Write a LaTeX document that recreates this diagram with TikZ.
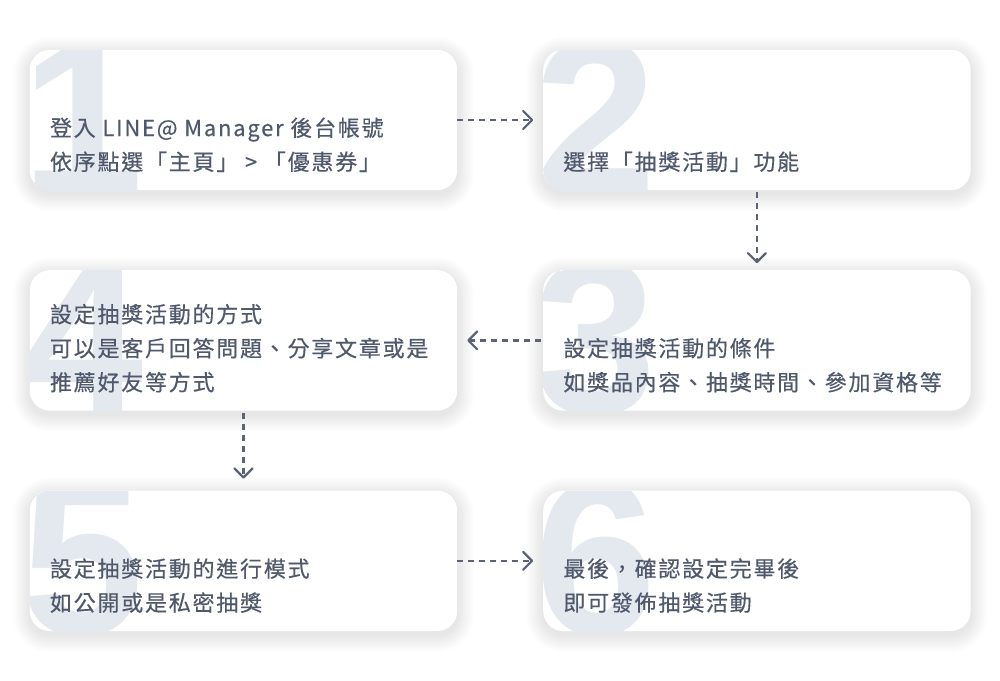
\documentclass[tikz,border=0pt]{standalone}
\usepackage{fontspec}
\setmainfont{Liberation Sans}
\newfontfamily\cjk[LetterSpace=8,FakeBold=0.4]{Noto Sans CJK TC}
\newfontfamily\numfont{Liberation Sans}
\usetikzlibrary{arrows.meta,positioning}
\definecolor{txtgray}{HTML}{4F596B}
\definecolor{numgray}{HTML}{E4E9EF}
\definecolor{arrgray}{HTML}{5B6375}
\definecolor{shadegray}{HTML}{3C4A60}

\begin{document}
\begin{tikzpicture}[x=1pt,y=-1pt,
  stepbox/.style={inner sep=0pt,minimum width=427pt,minimum height=140pt},
  bignum/.style={inner sep=0pt,text=numgray,font=\numfont\bfseries\fontsize{220}{220}\selectfont},
  steptext/.style={inner sep=0pt,align=left,text=txtgray,font=\cjk\fontsize{22}{34}\selectfont},
  flow/.style={draw=arrgray,line width=2.2pt,dash pattern=on 6pt off 5pt,
    -{Straight Barb[length=9pt,width=18pt,round]}}]
\fill[white] (0,0) rectangle (1000,680);
\useasboundingbox (0,0) rectangle (1000,680);
% the six steps
\node (s1) [stepbox] at (243.5,120) {};
\node (s2) [stepbox,right=86pt of s1] {};
\node (s3) [stepbox,below=80pt of s2] {};
\node (s4) [stepbox,left=86pt of s3] {};
\node (s5) [stepbox,below=80pt of s4] {};
\node (s6) [stepbox,right=86pt of s5] {};
\foreach \n in {1,...,6}{
  % soft shadow
  \foreach \k in {1,...,12}
    \fill[shadegray,opacity=0.006,rounded corners=20pt+1.4*\k pt]
      ([xshift=-1.4*\k pt,yshift=-4pt-1.4*\k pt]s\n.south west) rectangle ([xshift=1.4*\k pt,yshift=-4pt+1.4*\k pt]s\n.north east);
  \fill[white,rounded corners=20pt] (s\n.south west) rectangle (s\n.north east);
  \begin{scope}
    \clip[rounded corners=20pt] (s\n.south west) rectangle (s\n.north east);
    \node (d\n) [bignum,anchor=base west] at ([xshift=-9pt,yshift=-3pt]s\n.south west) {\n};
  \end{scope}}
\node (t1) [steptext,anchor=south west] at ([xshift=20pt,yshift=18pt]s1.south west)
  {登入 LINE@ Manager 後台帳號\\依序點選「主頁」 > 「優惠券」};
\node (t2) [steptext,anchor=south west] at ([xshift=20pt,yshift=18pt]s2.south west)
  {選擇「抽獎活動」功能};
\node (t3) [steptext,anchor=south west] at ([xshift=20pt,yshift=18pt]s3.south west)
  {設定抽獎活動的條件\\如獎品內容、抽獎時間、參加資格等};
\node (t4) [steptext,anchor=south west] at ([xshift=20pt,yshift=18pt]s4.south west)
  {設定抽獎活動的方式\\可以是客戶回答問題、分享文章或是\\推薦好友等方式};
\node (t5) [steptext,anchor=south west] at ([xshift=20pt,yshift=18pt]s5.south west)
  {設定抽獎活動的進行模式\\如公開或是私密抽獎};
\node (t6) [steptext,anchor=south west] at ([xshift=20pt,yshift=18pt]s6.south west)
  {最後，確認設定完畢後\\即可發佈抽獎活動};
% connectors
\draw[flow,shorten >=10pt] (s1) -- (s2);
\draw[flow,shorten <=2pt,shorten >=7pt] (s2) -- (s3);
\draw[flow,shorten <=2pt,shorten >=10pt] (s3) -- (s4);
\draw[flow,shorten <=2pt,shorten >=12pt] (s4) -- (s5);
\draw[flow,shorten >=10pt] (s5) -- (s6);
\end{tikzpicture}
\end{document}
